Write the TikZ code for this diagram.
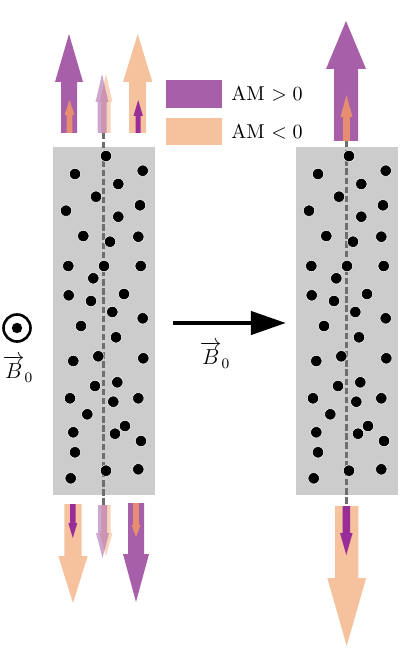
\documentclass[tikz,border=0pt]{standalone}
\usepackage{amssymb,amsmath}
\usetikzlibrary{arrows.meta}
\definecolor{ampos}{RGB}{166,95,168}
\definecolor{amneg}{RGB}{246,194,158}
\definecolor{amposin}{RGB}{154,46,152}
\definecolor{amnegin}{RGB}{232,142,112}
\definecolor{slab}{RGB}{204,204,204}
\tikzset{>=latex,%
  spin/.style={draw=white,line width=0.3pt,fill=black},%
  axis/.style={draw={rgb,255:red,110;green,110;blue,110},line width=1.6pt,
    dash pattern=on 3.6pt off 1.6pt},%
  legend/.style={anchor=west,inner sep=0pt,scale=1.14},%
  field/.style={inner sep=0pt,font=\large,scale=1.03}}
% x, y of base, y of head base, y of tip, half shaft, half head, options
\newcommand{\blockarrow}[7]{%
  \fill[#7] (#1-#5,#2) -- (#1-#5,#3) -- (#1-#6,#3) -- (#1,#4)
    -- (#1+#6,#3) -- (#1+#5,#3) -- (#1+#5,#2) -- cycle;}

\begin{document}
\begin{tikzpicture}[x=0.02cm,y=-0.02cm]
  \useasboundingbox (0,0) rectangle (400,648);
  % slabs with spins
  \foreach \dx in {0,243} {
    \fill[slab] (53+\dx,147) rectangle (155+\dx,495);
  }
  \draw[axis] (103.5,133) -- (103.5,505);
  \draw[axis] (346.5,141) -- (346.5,506);
  \foreach \dx in {0,243} {
    \foreach \x/\y in {106/156,75/174,142.7/170.7,118.3/184,96/196.7,66/210.7,
        140/205.3,118.3/216.7,83.3/236,110/241.7,138.3/236.7,68.3/266,104/266,
        140.7/266,93.3/278.3,68.7/295.3,124/294,91/301,112.3/312,142.7/318.3,
        81/326,116/337.3,73.3/361,98.3/356.3,143.3/358.3,95/386,117.3/382.3,
        70/398.3,113.3/401.7,138.3/398.3,87.3/414.3,73.3/432.3,125/426,
        115/433.7,141/441,75/452.3,106/470.7,138.3/469.3,70.7/478.3}
      \filldraw[spin] (\x+\dx,\y) circle (5.7);
  }
  % left: before
  \blockarrow{69}{133}{82}{34}{8}{14}{ampos}
  \blockarrow{69.5}{133}{115}{100}{2.8}{5}{amnegin}
  \blockarrow{106}{133}{102}{74}{4.7}{6.5}{amneg,opacity=0.7}
  \blockarrow{102}{133}{102}{74}{4.5}{6.5}{ampos,opacity=0.55}
  \blockarrow{137.7}{133}{82}{34}{8.5}{14.7}{amneg}
  \blockarrow{138.2}{133}{116}{100}{2.5}{4.7}{amposin}
  \blockarrow{73}{504}{556}{603}{8.7}{14.7}{amneg}
  \blockarrow{72.8}{504}{523}{538}{2.8}{4.5}{amposin}
  \blockarrow{106}{505}{533}{556}{4.7}{6.5}{amneg,opacity=0.7}
  \blockarrow{102.5}{505}{533}{558}{4.5}{6.5}{ampos,opacity=0.55}
  \blockarrow{136}{503}{554}{602}{8}{13}{ampos}
  \blockarrow{136}{503}{525}{537}{2.8}{4.5}{amnegin}
  % right: after
  \blockarrow{346}{141}{69}{21}{12}{20}{ampos}
  \blockarrow{346.5}{141}{117}{95}{3.3}{6}{amnegin}
  \blockarrow{346.7}{506}{578}{646}{11.7}{19.4}{amneg}
  \blockarrow{346.3}{506}{533}{555}{3.7}{6.3}{amposin}
  % legend
  \fill[ampos] (166,80) rectangle (222,108);
  \fill[amneg] (166,118) rectangle (222,145);
  \node[legend] (lpos) at (231,94) {AM $>0$};
  \node[legend] (lneg) at (231,131.5) {AM $<0$};
  % field
  \draw[line width=1.5pt] (17,328) circle (13.5);
  \fill (17,328) circle (5.2);
  \node[field] (bleft) at (18,369) {$\overrightarrow{B}_0$};
  \coordinate (bstart) at (173,323);
  \coordinate (bend) at (286,323);
  \draw[line width=2.8pt,-{Triangle[length=20pt,width=13pt]}] (bstart) -- (bend);
  \node[field] (bmid) at (215,355) {$\overrightarrow{B}_0$};
\end{tikzpicture}
\end{document}
